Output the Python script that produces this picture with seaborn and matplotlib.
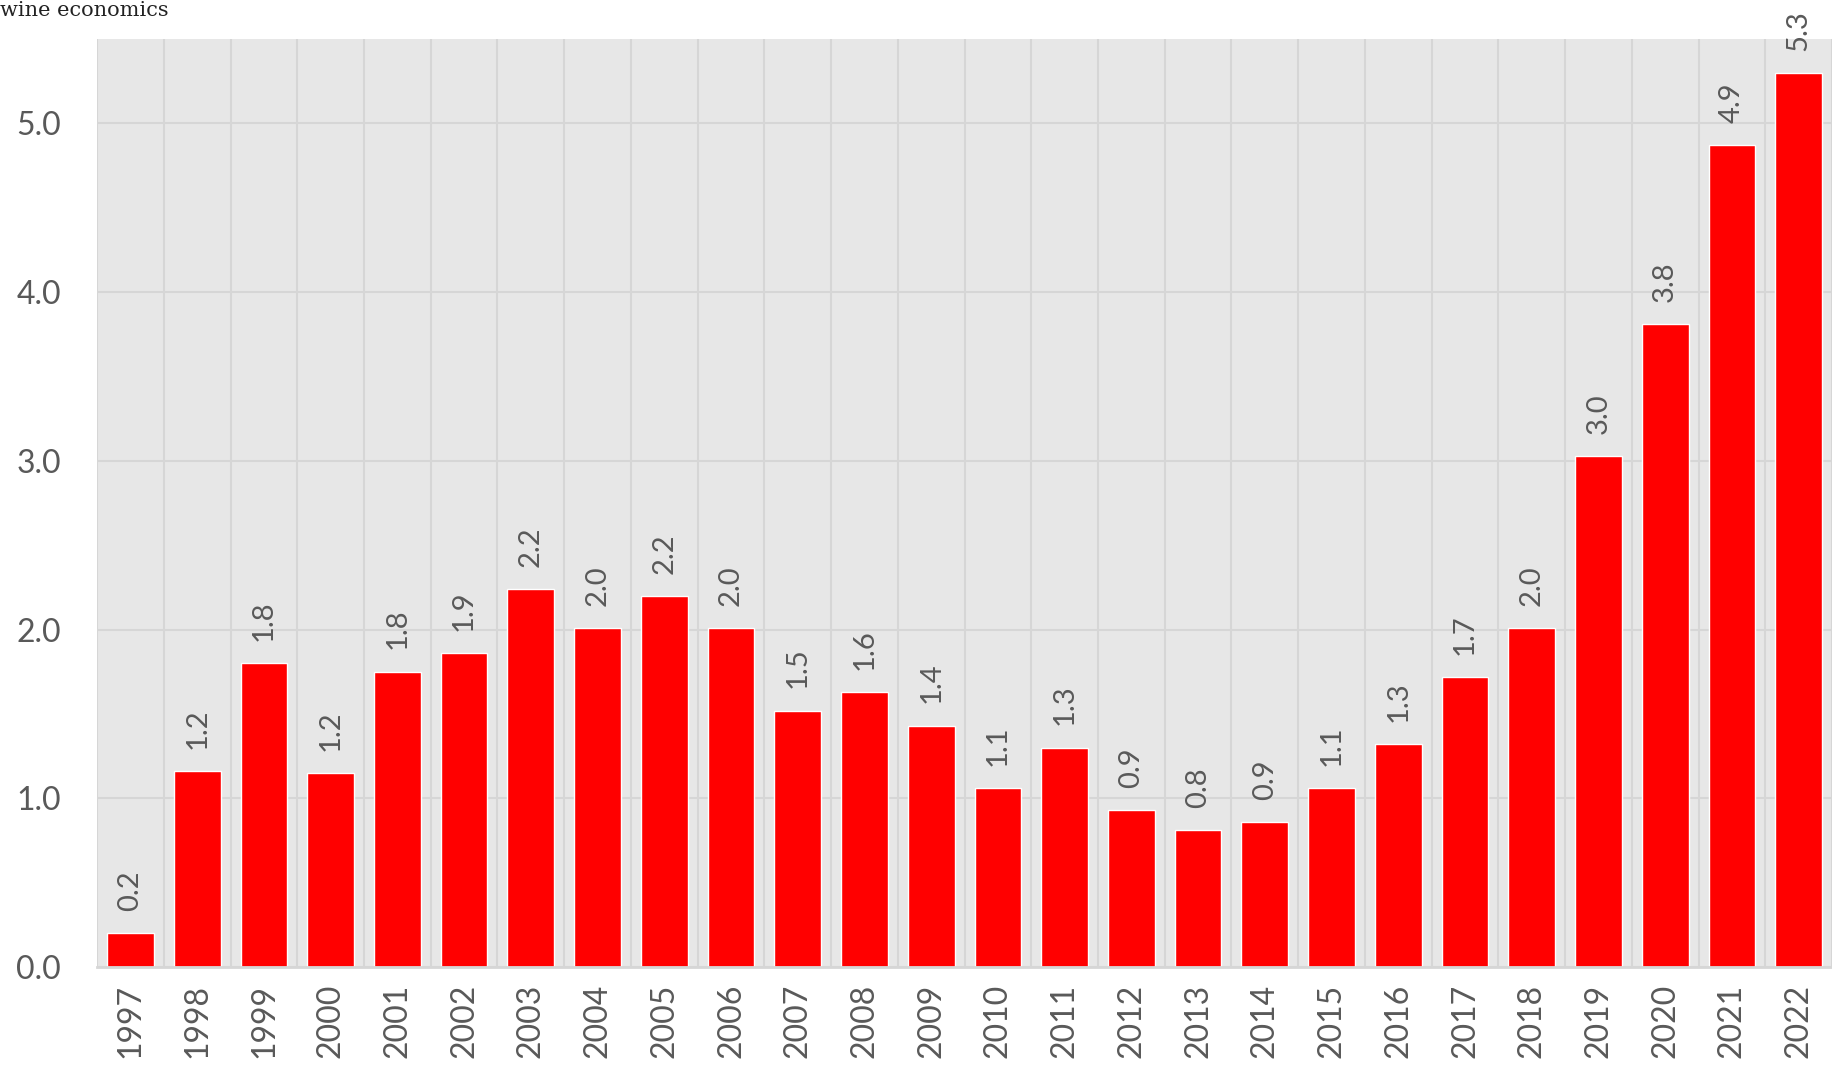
import matplotlib
matplotlib.use("Agg")
import matplotlib.pyplot as plt
from matplotlib.ticker import FixedLocator
import seaborn as sns
import pandas as pd

years = [str(y) for y in range(1997, 2023)]
values = [0.2, 1.16, 1.80, 1.15, 1.75, 1.86, 2.24, 2.01, 2.20, 2.01,
          1.52, 1.63, 1.43, 1.06, 1.30, 0.93, 0.81, 0.86, 1.06, 1.32,
          1.72, 2.01, 3.03, 3.81, 4.87, 5.30]
labels = ["0.2", "1.2", "1.8", "1.2", "1.8", "1.9", "2.2", "2.0", "2.2", "2.0",
          "1.5", "1.6", "1.4", "1.1", "1.3", "0.9", "0.8", "0.9", "1.1", "1.3",
          "1.7", "2.0", "3.0", "3.8", "4.9", "5.3"]

df = pd.DataFrame({"year": years, "value": values})

sns.set_style("darkgrid", {"axes.facecolor": "#e7e7e7", "grid.color": "#d6d6d6"})
plt.rcParams['font.family'] = ['Lato', 'DejaVu Sans']

fig = plt.figure(figsize=(18.32, 10.75), dpi=100)
ax = fig.add_axes([0.053, 0.1005, 0.947, 0.8632])

sns.barplot(data=df, x="year", y="value", color="#ff0000", saturation=1,
            width=0.7, ax=ax)

# value labels above the bars
for i, (v, lab) in enumerate(zip(values, labels)):
    ax.annotate(lab, (i, v), xytext=(0, 16), textcoords="offset points",
                rotation=90, ha="center", va="bottom", fontsize=21,
                color="#595959", annotation_clip=False)

ax.set_xlim(-0.5, len(years) - 0.5)
ax.set_ylim(0, 5.5)
ax.set_yticks([0, 1, 2, 3, 4, 5])
ax.set_yticklabels([f"{t:.1f}" for t in range(6)], fontsize=23, color="#595959")
ax.xaxis.set_minor_locator(FixedLocator([i + 0.5 for i in range(-1, len(years))]))
ax.grid(which="minor", axis="x", color="#d6d6d6", linewidth=1.5)
ax.grid(which="major", axis="x", visible=False)
ax.grid(which="major", axis="y", color="#d6d6d6", linewidth=1.5)
ax.tick_params(axis="x", which="both", length=0, pad=12, labelsize=23,
               labelcolor="#595959", labelrotation=90)
ax.tick_params(axis="y", length=0, pad=26)
ax.set_xlabel("")
ax.set_ylabel("")
for s in ["top", "right", "left"]:
    ax.spines[s].set_visible(False)
ax.spines["bottom"].set_color("#d6d6d6")
ax.spines["bottom"].set_linewidth(2)

fig.text(0.0, 0.999, "wine economics", ha="left", va="top",
         fontsize=15, family="DejaVu Serif", color="#222222")

fig.savefig("out.png", dpi=100)
